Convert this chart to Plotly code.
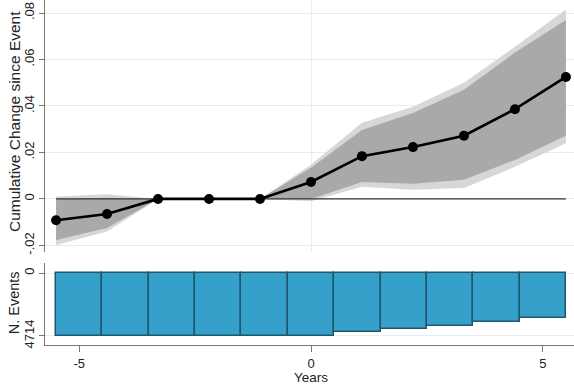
import plotly.graph_objects as go

# ---- data ----
years = [-5.5, -4.4, -3.3, -2.2, -1.1, 0.0, 1.1, 2.2, 3.3, 4.4, 5.5]
estimate = [-0.0092, -0.0065, 0.0, 0.0, 0.0, 0.0073, 0.0184, 0.0223, 0.0272, 0.0386, 0.0525]
ci_inner_upper = [0.0000, 0.0005, 0.0, 0.0, 0.0, 0.0134, 0.0297, 0.0370, 0.0470, 0.0630, 0.0770]
ci_inner_lower = [-0.0177, -0.0125, 0.0, 0.0, 0.0, 0.0000, 0.0073, 0.0065, 0.0082, 0.0168, 0.0272]
ci_outer_upper = [0.0010, 0.0020, 0.0, 0.0, 0.0, 0.0147, 0.0328, 0.0397, 0.0500, 0.0655, 0.0815]
ci_outer_lower = [-0.0198, -0.0140, 0.0, 0.0, 0.0, -0.0010, 0.0052, 0.0040, 0.0047, 0.0138, 0.0240]

bar_years = [-5, -4, -3, -2, -1, 0, 1, 2, 3, 4, 5]
n_events = [4714, 4714, 4714, 4714, 4714, 4714, 4415, 4190, 3930, 3670, 3370]

x_tickvals = [-5, 0, 5]
x_ticktext = ["-5", "0", "5"]
y_tickvals = [-0.02, 0, 0.02, 0.04, 0.06, 0.08]
y_ticktext = ["-.02", "0", ".02", ".04", ".06", ".08"]
n_tickvals = [0, 4714]
n_ticktext = ["0", "4714"]

FONT = "Liberation Sans, Arial, sans-serif"
TXT = "#222222"

fig = go.Figure()

# outer (light) band
fig.add_trace(go.Scatter(
    x=years + years[::-1], y=ci_outer_upper + ci_outer_lower[::-1],
    fill="toself", fillcolor="#d7d7d7", line=dict(width=0),
    mode="lines", hoverinfo="skip", showlegend=False, xaxis="x", yaxis="y"))
# inner (dark) band
fig.add_trace(go.Scatter(
    x=years + years[::-1], y=ci_inner_upper + ci_inner_lower[::-1],
    fill="toself", fillcolor="#a9a9a9", line=dict(width=0),
    mode="lines", hoverinfo="skip", showlegend=False, xaxis="x", yaxis="y"))
# zero reference line
fig.add_trace(go.Scatter(
    x=[years[0], years[-1]], y=[0, 0], mode="lines",
    line=dict(color="#333333", width=1.2), hoverinfo="skip",
    showlegend=False, xaxis="x", yaxis="y"))
# estimates
fig.add_trace(go.Scatter(
    x=years, y=estimate, mode="lines+markers",
    line=dict(color="black", width=2.6),
    marker=dict(color="black", size=10),
    showlegend=False, xaxis="x", yaxis="y"))

# bottom panel bars
fig.add_trace(go.Bar(
    x=bar_years, y=n_events, width=1,
    marker=dict(color="#35a0c9", line=dict(color="#1e5870", width=1.5)),
    showlegend=False, xaxis="x2", yaxis="y2"))

xr = [-5.739, 5.674]
fig.update_layout(
    width=574, height=384,
    margin=dict(l=45, r=0, t=0, b=0, autoexpand=False),
    paper_bgcolor="white", plot_bgcolor="white",
    font=dict(family=FONT, color=TXT, size=13),
    bargap=0,
    xaxis=dict(domain=[0, 1], range=xr, showticklabels=False, showgrid=False,
               zeroline=True, zerolinecolor="#e4eef1", zerolinewidth=1,
               showline=False, ticks="", anchor="y"),
    yaxis=dict(domain=[0.344, 1], range=[-0.0228, 0.0856],
               tickvals=y_tickvals, ticktext=y_ticktext, tickangle=-90,
               ticks="outside", ticklen=5, tickcolor="#777777",
               showline=True, linecolor="#777777", linewidth=1,
               showgrid=True, gridcolor="#e4eef1", gridwidth=1,
               zeroline=False, tickfont=dict(size=13), anchor="x"),
    xaxis2=dict(domain=[0, 1], range=xr, tickvals=x_tickvals, ticktext=x_ticktext,
                ticks="outside", ticklen=6, tickcolor="#777777",
                showline=True, linecolor="#777777", linewidth=1,
                showgrid=False, zeroline=False, tickfont=dict(size=13), anchor="y2"),
    yaxis2=dict(domain=[0.1016, 0.3151], range=[5387, -748],
                tickvals=n_tickvals, ticktext=n_ticktext, tickangle=-90,
                ticks="outside", ticklen=5, tickcolor="#777777",
                showline=True, linecolor="#777777", linewidth=1,
                showgrid=True, gridcolor="#e4eef1", zeroline=False,
                tickfont=dict(size=13), anchor="x2"),
    annotations=[
        dict(text="Cumulative Change since Event", xref="paper", yref="paper",
             x=-0.058, y=0.683, textangle=-90, showarrow=False,
             xanchor="center", yanchor="middle", font=dict(size=15.5)),
        dict(text="N. Events", xref="paper", yref="paper",
             x=-0.058, y=0.211, textangle=-90, showarrow=False,
             xanchor="center", yanchor="middle", font=dict(size=14.5)),
        dict(text="Years", xref="x2", yref="paper", x=0, y=0.018,
             showarrow=False, xanchor="center", yanchor="middle",
             font=dict(size=13.5)),
    ],
)

fig.write_html(
    "out.html",
    config={"displayModeBar": False},
    post_script="document.body.style.margin='0';document.body.style.overflow='hidden';",
)
